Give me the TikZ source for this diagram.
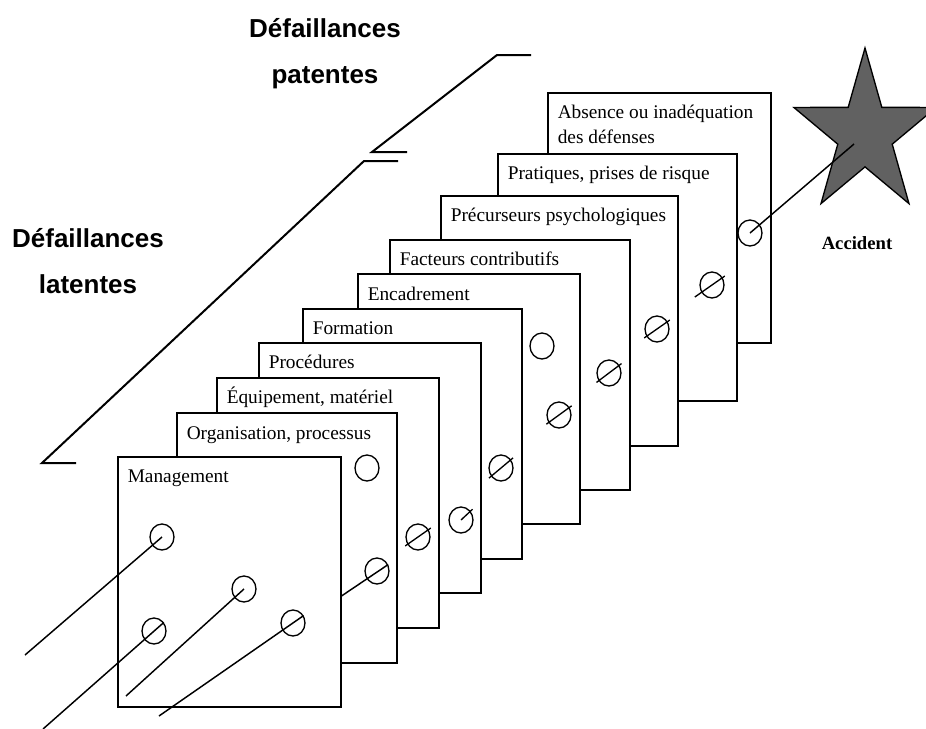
\documentclass[tikz,border=0pt]{standalone}
\usepackage{fontspec}
\setmainfont{Liberation Serif}
\newfontfamily\headfont{Liberation Sans}
\usepackage{tikz}
\usetikzlibrary{shapes.geometric}

\tikzset{
	panel/.style={rectangle, draw, fill=white, line width=1.5pt, inner sep=0pt, anchor=north west, minimum width=166.5pt, minimum height=187.5pt},
	layer/.style={font=\fontsize{14.5}{18.75}\selectfont, inner sep=0pt, anchor=base west, align=left},
	hole/.style={ellipse, draw, line width=1pt, inner sep=0pt, minimum width=18pt, minimum height=19.5pt},
	ray/.style={line width=1.1pt},
	slash/.style={line width=1pt, shorten <=-2pt, shorten >=-2pt},
	heading/.style={font=\headfont\bfseries\fontsize{19.5}{34.5}\selectfont, align=center, inner sep=0pt, anchor=base},
	bracket/.style={line width=1.5pt}
}

\begin{document}
\begin{tikzpicture}[x=0.75pt,y=-0.75pt]
	\useasboundingbox (0,0) rectangle (926,729);

	\node[heading] (patentes) at (325,83) {Défaillances\\patentes};
	\node[heading] (latentes) at (88,293) {Défaillances\\latentes};
	\draw[bracket] (531,55) -- (497,55) -- (372,152) -- (407,152);
	\draw[bracket] (398,161) -- (364,161) -- (42,463) -- (76,463);

	\draw[fill=black!62, line width=1pt, shift={(865,134)}, xscale=0.87] (-90:86) -- (-54:32.9) -- (-18:86) -- (18:32.9) -- (54:86) -- (90:32.9) -- (126:86) -- (162:32.9) -- (198:86) -- (234:32.9) -- cycle;
	\coordinate (impact) at (854,144);
	\node[font=\bfseries\fontsize{14}{16}\selectfont, inner sep=0pt, anchor=base] (accident) at (857,249) {Accident};

	\node[panel, minimum width=167.25pt] (absence) at (547,92) {};
	\node[layer] (absencelbl) at ([shift={(10.5,51)}]absence.north west) {Absence ou inadéquation\\des défenses};
	\node[hole] (h15) at (750,233) {};

	\node[panel, minimum width=179.25pt, minimum height=185.25pt] (pratiq) at (497,153) {};
	\node[layer] (pratiqlbl) at ([shift={(10.5,26)}]pratiq.north west) {Pratiques, prises de risque};
	\node[hole] (h14) at (712,285) {};
	\draw[slash, shorten <=-6pt] (h14.215) -- (h14.35);

	\node[panel, minimum width=177.75pt] (precurs) at (440,195) {};
	\node[layer] (precurslbl) at ([shift={(10.5,26)}]precurs.north west) {Précurseurs psychologiques};
	\node[hole] (h13) at (657,329) {};
	\draw[slash] (h13.215) -- (h13.35);

	\node[panel, minimum width=180pt] (facteurs) at (389,239) {};
	\node[layer] (facteurslbl) at ([shift={(10.5,26)}]facteurs.north west) {Facteurs contributifs};
	\node[hole] (h12) at (609,373) {};
	\draw[slash] (h12.217) -- (h12.37);

	\node[panel] (encad) at (357,273) {};
	\node[layer] (encadlbl) at ([shift={(10.5,27)}]encad.north west) {Encadrement};
	\node[hole] (h10) at (542,346) {};
	\node[hole] (h11) at (559,415) {};
	\draw[slash] (h11.216) -- (h11.36);

	\node[panel, minimum width=164.25pt] (forma) at (302,308) {};
	\node[layer] (formalbl) at ([shift={(10.5,26)}]forma.north west) {Formation};
	\node[hole] (h9) at (501,468) {};
	\draw[slash] (h9.220) -- (h9.40);

	\node[panel] (proced) at (258,342) {};
	\node[layer] (procedlbl) at ([shift={(10.5,26)}]proced.north west) {Procédures};
	\node[hole] (h8) at (461,520) {};
	\draw[slash, shorten <=0pt] (h8.center) -- (h8.43);

	\node[panel] (equip) at (216,377) {};
	\node[layer] (equiplbl) at ([shift={(10.5,26)}]equip.north west) {Équipement, matériel};
	\node[hole] (h7) at (418,537) {};
	\draw[slash] (h7.215) -- (h7.35);

	\node[panel, minimum width=165pt] (orga) at (176,412) {};
	\node[layer] (orgalbl) at ([shift={(10.5,27)}]orga.north west) {Organisation, processus};
	\node[hole] (h5) at (367,468) {};
	\node[hole] (h6) at (377,571) {};
	\coordinate (s6) at (340,597);
	\path[ray] (s6) edge (h6.30);

	\node[panel, minimum width=167.25pt] (mgmt) at (117,456) {};
	\node[layer] (mgmtlbl) at ([shift={(10.5,26)}]mgmt.north west) {Management};
	\node[hole] (h1) at (162,537) {};
	\node[hole] (h2) at (154,631) {};
	\node[hole] (h3) at (244,589) {};
	\node[hole] (h4) at (293,623) {};

	\coordinate (s1) at (25,655);
	\coordinate (s2) at (43,729);
	\coordinate (s3) at (126,696);
	\coordinate (s4) at (159,716);
	\path[ray]	(s1) edge (h1.center)
			(s2) edge (h2.41)
			(s3) edge (h3.center)
			(s4) edge (h4.35)
			(h15.center) edge (impact);
\end{tikzpicture}
\end{document}
